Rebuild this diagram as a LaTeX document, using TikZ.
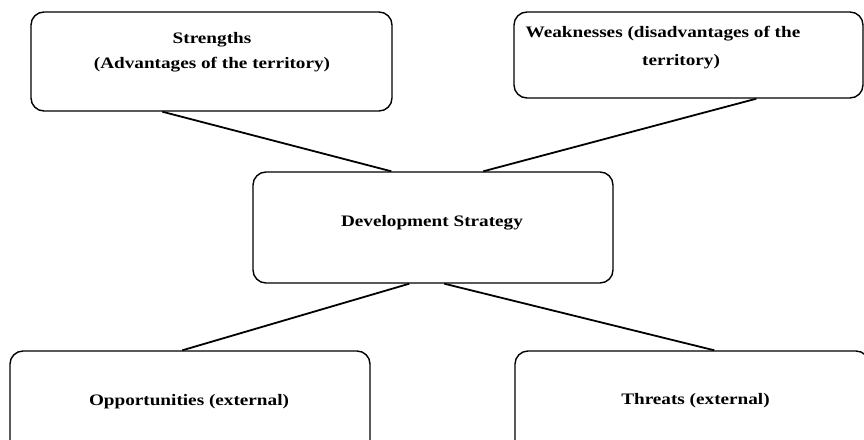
\documentclass[tikz,border=0pt]{standalone}
\usepackage{fontspec}
\setmainfont{Liberation Serif}[FakeStretch=1.2]
\begin{document}
\begin{tikzpicture}[x=1pt,y=-1pt,
  box/.style={draw=black, line width=1.4pt, rounded corners=13pt, inner sep=0pt, fill=none},
  txt/.style={anchor=base, inner sep=0pt, font=\fontsize{16}{19}\selectfont\bfseries},
  link/.style={draw=black, line width=1.8pt}]
\useasboundingbox (0,0) rectangle (864,439);
\fill[white] (0,0) rectangle (864,439);
\clip (0,0) rectangle (864,439);
% boxes
\node[box, minimum width=361pt, minimum height=99pt] (tl) at (211.5,61.5) {};
\node[box, minimum width=349pt, minimum height=86pt] (tr) at (688.5,55) {};
\node[box, minimum width=360pt, minimum height=111pt] (ds) at (433,227.5) {};
\node[box, minimum width=360pt, minimum height=110pt] (bl) at (190,406) {};
\node[box, minimum width=354pt, minimum height=110pt] (br) at (692,406) {};
% texts
\node[txt] (t1a) at (212,43) {Strengths};
\node[txt] (t1b) at (212,68) {(Advantages of the territory)};
\node[txt] (t2a) at (663,37) {Weaknesses (disadvantages of the};
\node[txt] (t2b) at (681,65) {territory)};
\node[txt] (t3) at (432,226.7) {Development Strategy};
\node[txt] (t4) at (189,405.5) {Opportunities (external)};
\node[txt] (t5) at (695.5,404) {Threats (external)};
% connectors
\draw[link] ([xshift=132pt]tl.south west) -- ([xshift=139pt]ds.north west);
\draw[link] ([xshift=243pt]tr.south west) -- ([xshift=231pt]ds.north west);
\draw[link] ([xshift=157pt]ds.south west) -- ([xshift=173pt]bl.north west);
\draw[link] ([xshift=192pt]ds.south west) -- ([xshift=200pt]br.north west);
\end{tikzpicture}
\end{document}
